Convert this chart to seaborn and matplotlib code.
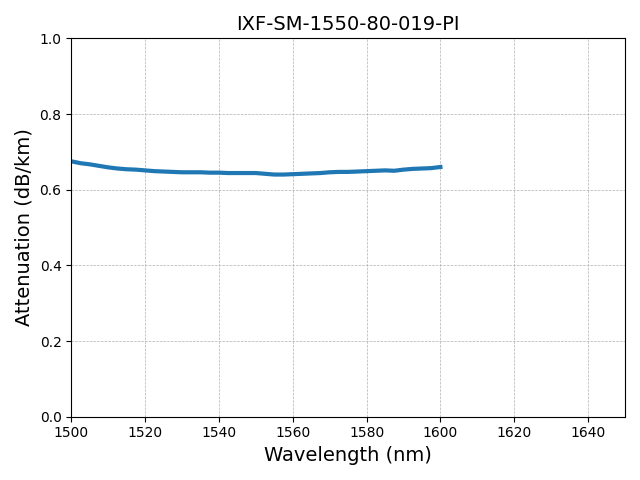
import matplotlib
matplotlib.use("Agg")
import matplotlib.pyplot as plt
import seaborn as sns
import pandas as pd

wavelength = [1500, 1502.5, 1505, 1507.5, 1510, 1512.5, 1515, 1517.5, 1520, 1522.5, 1525, 1527.5, 1530, 1532.5,
              1535, 1537.5, 1540, 1542.5, 1545, 1547.5, 1550, 1552.5, 1555, 1557.5, 1560, 1562.5, 1565, 1567.5,
              1570, 1572.5, 1575, 1577.5, 1580, 1582.5, 1585, 1587.5, 1590, 1592.5, 1595, 1597.5, 1600]
attenuation = [0.675, 0.670, 0.667, 0.663, 0.659, 0.656, 0.654, 0.653, 0.651, 0.649, 0.648, 0.647, 0.646, 0.646,
               0.646, 0.645, 0.645, 0.644, 0.644, 0.644, 0.644, 0.642, 0.640, 0.640, 0.641, 0.642, 0.643, 0.644,
               0.646, 0.647, 0.647, 0.648, 0.649, 0.650, 0.651, 0.650, 0.653, 0.655, 0.656, 0.657, 0.660]

df = pd.DataFrame({"Wavelength": wavelength, "Attenuation": attenuation})

fig, ax = plt.subplots(figsize=(6.4, 4.8), dpi=100)
sns.lineplot(data=df, x="Wavelength", y="Attenuation", ax=ax, color="#1f77b4", linewidth=3)
ax.set_xlim(1500, 1650)
ax.set_ylim(0, 1.0)
ax.grid(True, linestyle="--", linewidth=0.5, color="#b0b0b0")
ax.set_title("IXF-SM-1550-80-019-PI", fontsize=14)
ax.set_xlabel("Wavelength (nm)", fontsize=14)
ax.set_ylabel("Attenuation (dB/km)", fontsize=14)
fig.tight_layout()
fig.savefig("out.png", dpi=100)
